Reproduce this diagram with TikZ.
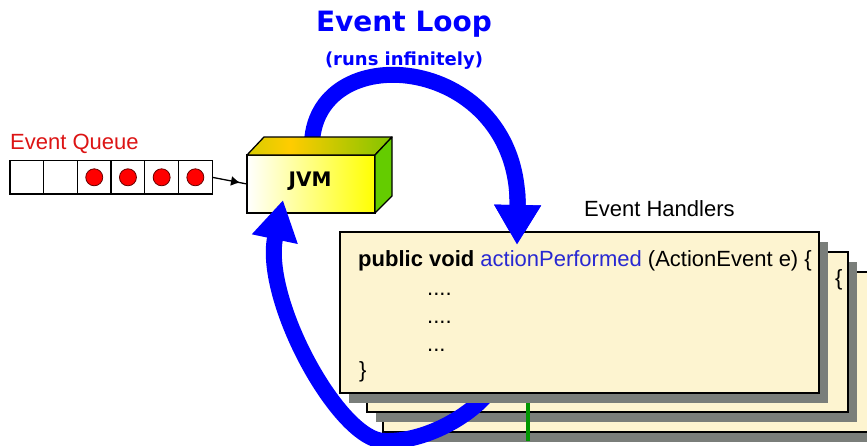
\documentclass[tikz,border=0pt]{standalone}
\usepackage{fontspec}
\setmainfont{Liberation Sans}
\newfontfamily\titlefont{DejaVu Sans}
\usetikzlibrary{arrows.meta,shadows,decorations.markings}
\definecolor{loopblue}{RGB}{0,0,255}
\definecolor{queuered}{RGB}{220,20,20}
\definecolor{dotred}{RGB}{255,0,0}
\definecolor{cream}{RGB}{253,244,208}
\definecolor{shadowgray}{RGB}{122,126,122}
\definecolor{codeblue}{RGB}{40,40,210}
\definecolor{jvmgreen}{RGB}{100,204,0}
\definecolor{topgold}{RGB}{255,204,0}
\definecolor{topgreenA}{RGB}{150,204,0}
\definecolor{topgreenB}{RGB}{40,190,0}
\definecolor{handlergreen}{RGB}{0,150,0}
\pgfdeclarehorizontalshading{jvmtop}{100bp}{color(0bp)=(topgreenA); color(40bp)=(topgold); color(100bp)=(topgreenB)}
\begin{document}
\begin{tikzpicture}[x=1pt,y=-1pt,
  txt/.style={font=\fontsize{22}{26}\selectfont, inner sep=0pt, anchor=base west},
  cell/.style={draw=black, line width=1.3pt, fill=white, minimum width=33.7pt, minimum height=33.5pt, inner sep=0pt, outer sep=0pt},
  reddot/.style={circle, fill=dotred, draw=black!60!red, line width=0.8pt, minimum size=17pt, inner sep=0pt},
  handler/.style={draw=black, line width=1.5pt, fill=cream, inner sep=0pt, outer sep=0pt,
    drop shadow={shadow xshift=9pt, shadow yshift=-10pt, fill=shadowgray, opacity=1}},
  looparrow/.style={draw=loopblue, line width=16pt, -{Triangle[width=44pt,length=40pt]}},
  facestyle/.style={draw=black, line width=1.3pt, line join=round},
]
\useasboundingbox (0,0) rectangle (867,445);

% titles
\node[font=\titlefont\bfseries\fontsize{28}{32}\selectfont, text=loopblue, anchor=base, inner sep=0pt] (title) at (404,31) {Event Loop};
\node[font=\titlefont\bfseries\fontsize{18}{22}\selectfont, text=loopblue, anchor=base, inner sep=0pt] (subtitle) at (404,65) {(runs infinitely)};

% named ends of the loop arrows
\coordinate (topstart) at (312,142);
\coordinate (toptip) at (517,245);
\coordinate (botstart) at (492,388);
\coordinate (botmid) at (385,441);
\coordinate (bottip) at (283,200);

% upper loop arrow (behind JVM)
\draw[looparrow] (topstart) .. controls (318,35) and (520,55) .. (toptip);

% event queue
\node[txt, text=queuered] (qlabel) at (10,149) {Event Queue};
\foreach \i in {1,...,6} \node[cell] (c\i) at ({10+33.7*(\i-0.5)},177.3) {};
\foreach \i in {3,...,6} \node[reddot] (d\i) at (c\i) {};

% JVM box
\node[draw=black, line width=1.3pt, left color=white, right color=yellow, minimum width=128pt, minimum height=58pt,
  inner sep=0pt, outer sep=0pt] (jvm) at (311,184) {};
\node[font=\titlefont\bfseries\fontsize{20}{24}\selectfont, inner sep=0pt] (jvmlabel) at (310,181.5) {JVM};
\shadedraw[shading=jvmtop, facestyle] (jvm.north west) -- ++(17,-18) -- ++(128,0) -- (jvm.north east) -- cycle;
\filldraw[fill=jvmgreen, facestyle] (jvm.north east) -- ++(17,-18) -- ++(0,59) -- (jvm.south east) -- cycle;

% queue to JVM
\draw[line width=1.3pt, postaction={decorate},
  decoration={markings, mark=at position 0.8 with {\arrow{Latex[length=9pt,width=10pt]}}}] (c6.east) -- (jvm.west);

% handler label
\node[txt] (hlabel) at (584,216) {Event Handlers};

% stacked handler boxes (back ones)
\node[handler, minimum width=497pt, minimum height=160pt] (h3) at (631.5,352) {};
\node[handler, minimum width=481pt, minimum height=160pt] (h2) at (607.5,332) {};
\node[txt] (open2) at (835,285) {\{};

% lower loop arrow (behind front handler, over back handlers and JVM)
\draw[looparrow] (botstart) .. controls (472,416) and (425,442) .. (botmid)
  .. controls (340,442) and (262,300) .. (bottip);

% green line
\coordinate (g1) at (528,396);
\coordinate (g2) at (528,441);
\draw[handlergreen, line width=4pt] (g1) -- (g2);

% front handler box
\node[handler, minimum width=479pt, minimum height=161pt] (h1) at (579.5,312.5) {};
\node[txt] (code) at (358,266) {\textbf{public void} \textcolor{codeblue}{actionPerformed} (ActionEvent e) \{};
\node[txt] (dotsA) at (427,295) {....};
\node[txt] (dotsB) at (427,323) {....};
\node[txt] (dotsC) at (427,351) {...};
\node[txt] (close) at (359,377) {\}};

% arrowhead of upper loop drawn over the front handler
\begin{scope}
  \clip (450,190) rectangle (560,262);
  \draw[looparrow] (topstart) .. controls (318,35) and (520,55) .. (toptip);
\end{scope}
\end{tikzpicture}
\end{document}
